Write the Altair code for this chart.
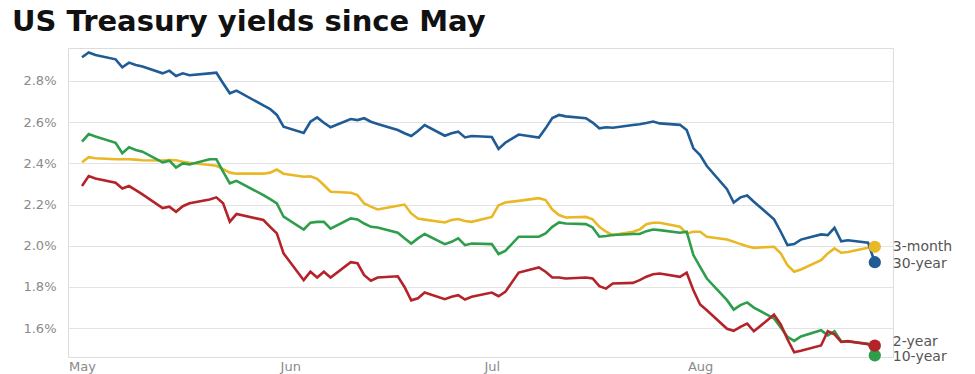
import altair as alt
import pandas as pd

dates = (
    ["2019-05-%02d" % d for d in [1, 2, 3, 6, 7, 8, 9, 10, 13, 14, 15, 16, 17, 20, 21, 22, 23, 24, 28, 29, 30, 31]]
    + ["2019-06-%02d" % d for d in [3, 4, 5, 6, 7, 10, 11, 12, 13, 14, 17, 18, 19, 20, 21, 24, 25, 26, 27, 28]]
    + ["2019-07-%02d" % d for d in [1, 2, 3, 5, 8, 9, 10, 11, 12, 15, 16, 17, 18, 19, 22, 23, 24, 25, 26, 29, 30, 31]]
    + ["2019-08-%02d" % d for d in [1, 2, 5, 6, 7, 8, 9, 12, 13, 14, 15, 16, 19, 20, 21, 22, 23, 26, 27]]
)

yield_3m = [
    2.405, 2.43, 2.425, 2.42, 2.42, 2.42, 2.418, 2.415, 2.414, 2.416, 2.415, 2.408, 2.403, 2.392, 2.388, 2.372, 2.355, 2.35, 2.35, 2.355, 2.37, 2.35,
    2.335, 2.337, 2.325, 2.295, 2.262, 2.257, 2.246, 2.205, 2.19, 2.176, 2.194, 2.20, 2.157, 2.132, 2.127, 2.113, 2.125, 2.13, 2.12, 2.116,
    2.14, 2.197, 2.21, 2.218, 2.231, 2.222, 2.176, 2.149, 2.137, 2.14, 2.128, 2.092, 2.068, 2.052, 2.068, 2.079, 2.105, 2.112, 2.112, 2.092, 2.06, 2.068,
    2.068, 2.044, 2.03, 2.02, 2.008, 1.998, 1.99, 1.995, 1.963, 1.906, 1.874, 1.885, 1.93, 1.963, 1.987, 1.966, 1.97, 1.99, 1.995,
]
yield_2y = [
    2.29, 2.338, 2.327, 2.306, 2.278, 2.29, 2.27, 2.249, 2.183, 2.19, 2.165, 2.192, 2.206, 2.225, 2.235, 2.206, 2.117, 2.154, 2.125, 2.092, 2.06, 1.963,
    1.833, 1.874, 1.846, 1.874, 1.846, 1.92, 1.915, 1.857, 1.83, 1.846, 1.852, 1.80, 1.735, 1.745, 1.773, 1.741, 1.752, 1.76, 1.739, 1.752,
    1.773, 1.755, 1.776, 1.87, 1.895, 1.874, 1.846, 1.846, 1.841, 1.846, 1.841, 1.804, 1.792, 1.817, 1.82, 1.833, 1.85, 1.862, 1.865, 1.849, 1.869, 1.784,
    1.715, 1.687, 1.597, 1.587, 1.606, 1.622, 1.585, 1.665, 1.618, 1.546, 1.483, 1.49, 1.516, 1.585, 1.57, 1.533, 1.537, 1.522, 1.515,
]
yield_10y = [
    2.505, 2.542, 2.53, 2.50, 2.449, 2.478, 2.465, 2.457, 2.405, 2.413, 2.38, 2.40, 2.395, 2.42, 2.42, 2.36, 2.303, 2.315, 2.246, 2.226, 2.206, 2.141,
    2.079, 2.112, 2.116, 2.116, 2.083, 2.133, 2.128, 2.108, 2.092, 2.089, 2.063, 2.036, 2.011, 2.036, 2.057, 2.008, 2.019, 2.036, 2.003, 2.011,
    2.008, 1.96, 1.975, 2.044, 2.044, 2.06, 2.092, 2.113, 2.108, 2.105, 2.089, 2.044, 2.047, 2.052, 2.057, 2.057, 2.071, 2.079, 2.076, 2.063, 2.068, 1.955,
    1.898, 1.841, 1.736, 1.69, 1.712, 1.725, 1.70, 1.647, 1.603, 1.558, 1.538, 1.56, 1.59, 1.565, 1.585, 1.535, 1.535, 1.525, 1.468,
]
yield_30y = [
    2.915, 2.938, 2.926, 2.905, 2.866, 2.889, 2.878, 2.870, 2.837, 2.850, 2.824, 2.837, 2.828, 2.837, 2.840, 2.789, 2.740, 2.753, 2.681, 2.664, 2.635, 2.578,
    2.548, 2.602, 2.623, 2.597, 2.575, 2.615, 2.610, 2.619, 2.602, 2.591, 2.562, 2.546, 2.533, 2.557, 2.586, 2.534, 2.546, 2.554, 2.526, 2.533,
    2.528, 2.470, 2.500, 2.540, 2.525, 2.570, 2.620, 2.635, 2.628, 2.619, 2.598, 2.570, 2.575, 2.573, 2.586, 2.590, 2.596, 2.603, 2.594, 2.587, 2.562, 2.473,
    2.44, 2.387, 2.275, 2.21, 2.235, 2.244, 2.214, 2.128, 2.068, 2.003, 2.008, 2.03, 2.055, 2.052, 2.087, 2.022, 2.027, 2.015, 1.92,
]

series_names = ["3-month", "10-year", "2-year", "30-year"]
series_values = [yield_3m, yield_10y, yield_2y, yield_30y]
series_colors = ["#e9b824", "#2e9e4b", "#b5232a", "#1f5b94"]
y_ticks = [1.6, 1.8, 2.0, 2.2, 2.4, 2.6, 2.8]
month_ticks = [(2019, 5), (2019, 6), (2019, 7), (2019, 8)]

rows = []
for name, vals in zip(series_names, series_values):
    for d, v in zip(dates, vals):
        rows.append({"date": d, "value": v, "series": name})
df = pd.DataFrame(rows)
last = df[df["date"] == dates[-1]].copy()

label_dy = {"3-month": 0, "30-year": 2, "2-year": -4, "10-year": 2}

color_scale = alt.Scale(domain=series_names, range=series_colors)

x_enc = alt.X(
    "date:T",
    title=None,
    scale=alt.Scale(
        type="utc",
        domain=[
            alt.DateTime(year=2019, month=4, date=28, hours=22, utc=True),
            alt.DateTime(year=2019, month=8, date=29, hours=17, utc=True),
        ],
    ),
    axis=alt.Axis(
        values=[alt.DateTime(year=y, month=m, date=1, utc=True) for y, m in month_ticks],
        labelExpr="utcFormat(datum.value, '%b')",
        grid=False,
        domain=False,
        ticks=False,
        labelPadding=3,
        labelFontSize=13,
        labelFont="DejaVu Sans",
        labelColor="#8a8a8a",
    ),
)
y_enc = alt.Y(
    "value:Q",
    title=None,
    scale=alt.Scale(domain=[1.46, 2.96], nice=False, zero=False),
    axis=alt.Axis(
        values=y_ticks,
        labelExpr="format(datum.value, '.1f') + '%'",
        grid=True,
        gridColor="#e3e3e3",
        gridWidth=1,
        domain=False,
        ticks=False,
        labelPadding=12,
        labelFontSize=13,
        labelFont="DejaVu Sans",
        labelColor="#8a8a8a",
    ),
)

base = alt.Chart(df)
lines = base.mark_line(strokeWidth=2.6).encode(
    x=x_enc,
    y=y_enc,
    color=alt.Color("series:N", scale=color_scale, legend=None),
    order=alt.Order("date:T"),
    detail="series:N",
)

dots = alt.Chart(last).mark_circle(size=150, opacity=1).encode(
    x="date:T",
    y="value:Q",
    color=alt.Color("series:N", scale=color_scale, legend=None),
)

label_layers = []
for name in series_names:
    label_layers.append(
        alt.Chart(last[last["series"] == name])
        .mark_text(align="left", baseline="middle", dx=18, dy=label_dy[name],
                   fontSize=14, font="DejaVu Sans", color="#555555")
        .encode(x="date:T", y="value:Q", text="series:N")
    )

chart = alt.layer(lines, dots, *label_layers).properties(
    width=825,
    height=309,
    autosize=alt.AutoSizeParams(type="none"),
    padding={"left": 68, "top": 48, "right": 82, "bottom": 17},
    title=alt.TitleParams(
        "US Treasury yields since May",
        anchor="start",
        frame="group",
        font="DejaVu Sans",
        fontSize=29,
        fontWeight="bold",
        color="#111111",
        dx=-56,
        dy=28,
        offset=15,
        baseline="alphabetic",
    ),
).configure_view(stroke=None).configure(background="white")

chart.save("out.html", embed_options={"renderer": "svg", "actions": False})
